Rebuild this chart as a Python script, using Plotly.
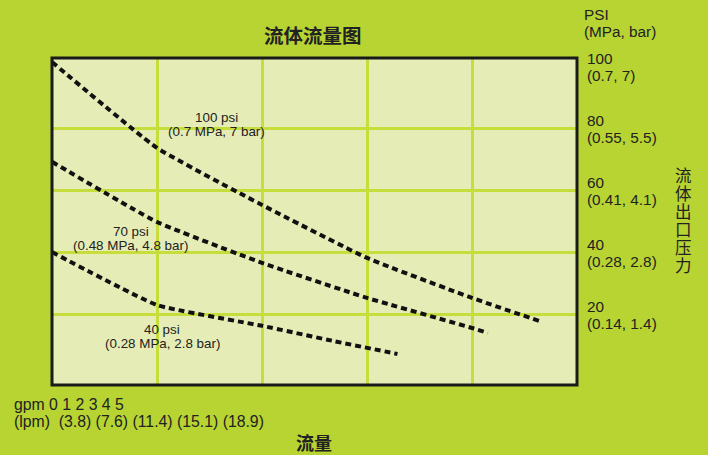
import plotly.graph_objects as go

# Flow (gpm) vs outlet pressure (psi) for three inlet air pressures
flow_100 = [0, 1, 2, 3, 4, 4.67]
psi_100 = [101.6, 73.9, 55.5, 38.4, 25.5, 17.7]
flow_70 = [0, 1, 2, 3, 4, 4.15]
psi_70 = [69.4, 50.0, 36.8, 25.5, 15.8, 14.2]
flow_40 = [0, 1, 2, 2.68, 3.29]
psi_40 = [40.3, 23.2, 16.5, 11.6, 7.4]

curve_label_top = ["100 psi", "70 psi", "40 psi"]
curve_label_bottom = ["(0.7 MPa, 7 bar)", "(0.48 MPa, 4.8 bar)", "(0.28 MPa, 2.8 bar)"]
label_pos = [(1.571, 81.3), (0.752, 44.8), (1.048, 13.1)]

psi_ticks = [100, 80, 60, 40, 20]
psi_tick_top = ["100", "80", "60", "40", "20"]
psi_tick_bottom = ["(0.7, 7)", "(0.55, 5.5)", "(0.41, 4.1)", "(0.28, 2.8)", "(0.14, 1.4)"]

gpm_line = "gpm 0 1 2 3 4 5"
lpm_line = "(lpm)  (3.8) (7.6) (11.4) (15.1) (18.9)"

BG = "#b7d433"
PLOT_BG = "#e5ecb6"
GRID = "#c6dd3c"
FONT = "Liberation Sans, Arial, sans-serif"
CJK = "Noto Sans CJK SC"
TXT = "#222222"

fig = go.Figure()
line_style = dict(color="#111111", width=4, dash="6px,4px", shape="spline", smoothing=0.4)
for xs, ys in [(flow_100, psi_100), (flow_70, psi_70), (flow_40, psi_40)]:
    fig.add_trace(go.Scatter(x=xs, y=ys, mode="lines", line=line_style, hoverinfo="skip", showlegend=False))

W, H = 708, 455
ml, mr, mt, mb = 52, 131, 58, 70
pw, ph = W - ml - mr, H - mt - mb

def px_x(px):
    return (px - ml) / pw

def px_y(py):
    return (H - mb - py) / ph

ann = []
for top, bot, (x, y) in zip(curve_label_top, curve_label_bottom, label_pos):
    for txt, shift in [(top, 7), (bot, -7)]:
        ann.append(dict(x=x, y=y, yshift=shift, xref="x", yref="y", text=txt, showarrow=False,
                        xanchor="center", yanchor="middle",
                        font=dict(family=FONT, size=13.4, color=TXT)))

for v, top, bot in zip(psi_ticks, psi_tick_top, psi_tick_bottom):
    for txt, shift in [(top, 8.5), (bot, -8.5)]:
        ann.append(dict(x=1, xshift=8, xref="paper", y=v, yshift=shift, yref="y", text=txt,
                        showarrow=False, xanchor="left", yanchor="middle",
                        font=dict(family=FONT, size=15.3, color=TXT)))

for txt, py in [("PSI", 15), ("(MPa, bar)", 32)]:
    ann.append(dict(x=1, xshift=5, xref="paper", y=px_y(py), yref="paper", text=txt,
                    showarrow=False, xanchor="left", yanchor="middle",
                    font=dict(family=FONT, size=15.3, color=TXT)))

for txt, py in [(gpm_line, 404), (lpm_line, 421)]:
    ann.append(dict(x=px_x(12), y=px_y(py), xref="paper", yref="paper", text=txt,
                    showarrow=False, xanchor="left", yanchor="middle",
                    font=dict(family=FONT, size=15.8, color=TXT)))

ann.append(dict(x=px_x(313), y=px_y(35), xref="paper", yref="paper", text="<b>流体流量图</b>",
                showarrow=False, xanchor="center", yanchor="middle",
                font=dict(family=CJK, size=19.5, color=TXT)))

ann.append(dict(x=px_x(314), y=px_y(442), xref="paper", yref="paper", text="<b>流量</b>",
                showarrow=False, xanchor="center", yanchor="middle",
                font=dict(family=CJK, size=18, color=TXT)))

for i, ch in enumerate("流体出口压力"):
    ann.append(dict(x=px_x(683), y=px_y(175 + 18 * i), xref="paper", yref="paper", text=ch,
                    showarrow=False, xanchor="center", yanchor="middle",
                    font=dict(family=CJK, size=16.5, color=TXT)))

fig.update_layout(
    width=W, height=H, autosize=False,
    margin=dict(l=ml, r=mr, t=mt, b=mb),
    paper_bgcolor=BG, plot_bgcolor=PLOT_BG,
    annotations=ann,
    xaxis=dict(range=[0, 5], dtick=1, tick0=0, showticklabels=False, showgrid=True,
               gridcolor=GRID, gridwidth=3, zeroline=False, ticks="", fixedrange=True),
    yaxis=dict(range=[-2.6, 102.9], tickvals=[20, 40, 60, 80], showticklabels=False, showgrid=True,
               gridcolor=GRID, gridwidth=3, zeroline=False, ticks="", fixedrange=True),
    shapes=[dict(type="rect", xref="paper", yref="paper", x0=0, y0=0, x1=1, y1=1,
                 line=dict(color="#1a1a1a", width=3), layer="above")],
)

fig.write_html(
    "out.html",
    config={"displayModeBar": False},
    post_script="document.body.style.margin='0';document.body.style.overflow='hidden';"
                "document.body.style.background='" + BG + "';",
)
